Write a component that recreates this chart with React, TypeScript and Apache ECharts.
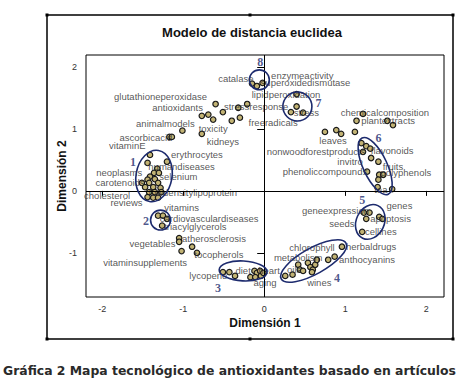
import React, { useEffect, useRef } from "react";
import * as echarts from "echarts";

// Term positions (Dimensión 1, Dimensión 2)
const pointX = [
  -0.60, -0.32, -0.21, -0.51, -0.77, -0.69, -0.63, -0.40, -0.30, -1.01, -0.77, -1.17, -1.14,
  -0.15, -0.09, -0.02,
  0.40, 0.40, 0.33, 0.48,
  1.22, 1.14, 1.52, 1.59, 0.75, 0.89, 0.95, 1.12,
  1.20, 1.26, 1.31, 1.22, 1.32, 1.41, 1.27, 1.42, 1.47, 1.41, 1.40, 1.58,
  1.23, 1.30, 1.26, 1.42, 1.46, 1.21,
  0.26, 0.35, 0.42, 0.44, 0.48, 0.54, 0.57, 0.60, 0.63, 0.65, 0.59, 0.79, 0.87, 0.96,
  -0.51, -0.43, -0.36, -0.17, -0.12, -0.09, -0.05, -0.04, -0.11, -0.01,
  -1.31, -1.25, -1.20, -1.26,
  -1.05, -1.05, -0.89, -1.02, -0.83,
  -1.41, -1.20, -1.44, -1.32, -1.36, -1.30, -1.41, -1.44, -1.35, -1.51, -1.42,
  -1.31, -1.47, -1.37, -1.28, -1.42, -1.35, -1.27, -1.44, -1.37, -1.31,
];
const pointY = [
  1.40, 1.34, 1.40, 1.27, 1.21, 1.23, 1.15, 1.13, 1.18, 0.97, 0.92, 0.87, 0.87,
  1.73, 1.69, 1.74,
  1.56, 1.36, 1.27, 1.26,
  1.24, 1.13, 1.13, 1.06, 0.95, 0.98, 0.92, 0.95,
  0.77, 0.72, 0.68, 0.63, 0.53, 0.47, 0.31, 0.26, 0.26, 0.18, 0.06, 0.03,
  -0.35, -0.35, -0.45, -0.42, -0.45, -0.66,
  -1.37, -1.35, -1.19, -1.27, -1.29, -1.16, -1.23, -1.27, -1.19, -1.11, -1.31, -1.11, -1.06, -0.90,
  -1.31, -1.31, -1.37, -1.39, -1.29, -1.32, -1.29, -1.37, -1.39, -1.32,
  -0.40, -0.40, -0.45, -0.56,
  -0.76, -0.82, -0.90, -0.97, -1.00,
  0.58, 0.47, 0.45, 0.36, 0.29, 0.29, 0.23, 0.18, 0.19, 0.13, 0.13,
  0.13, 0.06, 0.06, 0.05, -0.02, -0.02, -0.02, -0.10, -0.11, -0.11,
];

// Term labels and where they sit
const labelNames = [
  "glutathioneperoxidase", "antioxidants", "stressresponse", "lipidperoxidation", "stress",
  "freeradicals", "animalmodels", "toxicity", "kidneys", "ascorbicacid", "vitaminE",
  "erythrocytes", "humandiseases", "neoplasms", "selenium", "carotenoids", "cholesterol",
  "lowdensitylipoprotein", "reviews", "vitamins", "cardiovasculardiseases", "triacylglycerols",
  "atherosclerosis", "vegetables", "tocopherols", "vitaminsupplements", "lycopene", "diet",
  "heart", "oils", "aging", "chlorophyll", "metabolism", "wines", "herbaldrugs", "anthocyanins",
  "geneexpression", "genes", "apoptosis", "seeds", "cellines", "chemicalcomposition",
  "plantextracts", "leaves", "nonwoodforestproducts", "flavonoids", "invitro",
  "phenoliccompounds", "fruits", "polyphenols", "tea", "catalase", "enzymeactivity",
  "superoxidedismutase",
];
const labelX = [
  -1.28, -1.07, -0.10, 0.27, 0.52,
  0.11, -1.22, -0.63, -0.51, -1.46, -1.69,
  -0.83, -1.02, -1.79, -1.06, -1.78, -1.94,
  -0.88, -1.70, -1.02, -0.68, -0.85,
  -0.62, -1.38, -0.56, -1.47, -0.69, -0.26,
  0.06, 0.37, 0.01, 0.59, 0.42, 0.68, 1.32, 1.27,
  0.88, 1.67, 1.56, 0.96, 1.44, 1.49,
  1.53, 0.85, 0.64, 1.58, 1.06,
  0.75, 1.59, 1.75, 1.44, -0.35, 0.47,
  0.51,
];
const labelY = [
  1.52, 1.34, 1.36, 1.55, 1.27,
  1.11, 1.08, 1.00, 0.79, 0.86, 0.73,
  0.58, 0.39, 0.29, 0.23, 0.13, -0.07,
  -0.02, -0.19, -0.27, -0.44, -0.58,
  -0.77, -0.84, -1.02, -1.15, -1.37, -1.29,
  -1.29, -1.27, -1.47, -0.92, -1.07, -1.47, -0.90, -1.10,
  -0.31, -0.24, -0.45, -0.53, -0.66, 1.26,
  1.13, 0.81, 0.63, 0.65, 0.48,
  0.32, 0.40, 0.29, 0.03, 1.81, 1.86,
  1.74,
];

// Cluster outlines: centre, semi-axes (in Dimensión 1 units), tilt in degrees, tag position
const clusterIds = ["1", "2", "3", "4", "5", "6", "7", "8"];
const clusterX = [-1.36, -1.28, -0.26, 0.61, 1.31, 1.37, 0.41, -0.06];
const clusterY = [0.24, -0.47, -1.29, -1.13, -0.50, 0.40, 1.36, 1.79];
const clusterMajor = [0.32, 0.123, 0.296, 0.457, 0.222, 0.383, 0.179, 0.123];
const clusterMinor = [0.222, 0.123, 0.123, 0.16, 0.173, 0.148, 0.179, 0.123];
const clusterAngle = [80, 0, -3, 29, 65, -65, 0, 0];
const clusterTagX = [-1.62, -1.46, -0.57, 0.90, 1.21, 1.41, 0.67, -0.05];
const clusterTagY = [0.47, -0.48, -1.57, -1.40, -0.15, 0.86, 1.42, 2.07];

const xTicks = [-2, -1, 0, 1, 2];
const yTicks = [-1, 0, 1, 2];

const NAVY = "#1d2b6e";

export default function App() {
  const ref = useRef<HTMLDivElement>(null);

  useEffect(() => {
    if (!ref.current) return;
    const chart = echarts.init(ref.current, undefined, { renderer: "svg" });

    const points = pointX.map((x, i) => [x, pointY[i]]);
    const labels = labelNames.map((n, i) => ({ name: n, value: [labelX[i], labelY[i]] }));
    const clusters = clusterIds.map((id, i) => [
      clusterX[i], clusterY[i], clusterMajor[i], clusterMinor[i], clusterAngle[i],
    ]);
    const tags = clusterIds.map((id, i) => ({ name: id, value: [clusterTagX[i], clusterTagY[i]] }));

    const handles = [
      [47, 15], [250, 15], [453, 15], [47, 339], [250, 339], [453, 339],
    ].map(([x, y]) => ({
      type: "rect",
      shape: { x: x - 1.5, y: y - 1.5, width: 3, height: 3 },
      style: { fill: "#000" },
      z: 10,
    }));

    chart.setOption({
      animation: false,
      backgroundColor: "#fff",
      grid: {
        left: 86,
        top: 55,
        width: 358,
        height: 242,
        show: true,
        borderColor: "#000",
        borderWidth: 1,
        backgroundColor: "transparent",
      },
      xAxis: {
        type: "value",
        min: -2.2,
        max: 2.22,
        axisLine: { show: false },
        splitLine: { show: false },
        axisTick: {
          show: true,
          customValues: xTicks,
          length: 5,
          lineStyle: { color: "#000", width: 1 },
        },
        axisLabel: {
          customValues: xTicks,
          fontSize: 9,
          color: "#333",
          margin: 7,
          fontFamily: "Liberation Sans, Arial, sans-serif",
        },
      },
      yAxis: {
        type: "value",
        min: -1.71,
        max: 2.19,
        axisLine: { show: false },
        splitLine: { show: false },
        axisTick: {
          show: true,
          customValues: yTicks,
          length: 7,
          lineStyle: { color: "#000", width: 1 },
        },
        axisLabel: {
          customValues: yTicks,
          fontSize: 9,
          color: "#333",
          margin: 9,
          fontFamily: "Liberation Sans, Arial, sans-serif",
        },
      },
      series: [
        {
          type: "scatter",
          data: points,
          symbol: "circle",
          symbolSize: 5.5,
          itemStyle: { color: "#c2b374", borderColor: "#1a1a1a", borderWidth: 1.2, opacity: 1 },
          z: 3,
          markLine: {
            silent: true,
            symbol: ["none", "none"],
            label: { show: false },
            lineStyle: { color: "#000", width: 1, type: "solid" },
            data: [{ xAxis: 0 }, { yAxis: 0 }],
          },
        },
        {
          type: "scatter",
          data: labels,
          symbolSize: 0,
          z: 4,
          label: {
            show: true,
            position: "inside",
            formatter: "{b}",
            color: "#2a2a2a",
            fontSize: 9.5,
            fontFamily: "Liberation Sans, Arial, sans-serif",
          },
        },
        {
          type: "custom",
          data: clusters,
          z: 5,
          renderItem: (params: any, api: any) => {
            const c = api.coord([api.value(0), api.value(1)]);
            const a = api.size([api.value(2), 0])[0];
            const b = api.size([api.value(3), 0])[0];
            const ang = (api.value(4) * Math.PI) / 180;
            return {
              type: "ellipse",
              x: c[0],
              y: c[1],
              rotation: ang,
              shape: { cx: 0, cy: 0, rx: a, ry: b },
              style: { fill: "none", stroke: NAVY, lineWidth: 1.6 },
            };
          },
        },
        {
          type: "scatter",
          data: tags,
          symbolSize: 0,
          z: 6,
          label: {
            show: true,
            position: "inside",
            formatter: "{b}",
            color: NAVY,
            fontSize: 12,
            fontWeight: "bold",
            fontFamily: "Liberation Serif, Times New Roman, serif",
          },
        },
      ],
      graphic: [
        {
          type: "rect",
          shape: { x: 47, y: 15, width: 406, height: 324 },
          style: { fill: "none", stroke: "#000", lineWidth: 1.5 },
          z: 9,
        },
        ...handles,
        {
          type: "text",
          x: 252,
          y: 32,
          style: {
            text: "Modelo de distancia euclidea",
            fill: "#111",
            font: "bold 13px 'Liberation Sans', Arial, sans-serif",
            textAlign: "center",
            textVerticalAlign: "middle",
          },
        },
        {
          type: "text",
          x: 265,
          y: 323,
          style: {
            text: "Dimensión 1",
            fill: "#111",
            font: "bold 12px 'Liberation Sans', Arial, sans-serif",
            textAlign: "center",
            textVerticalAlign: "middle",
          },
        },
        {
          type: "text",
          x: 62,
          y: 176,
          rotation: Math.PI / 2,
          style: {
            text: "Dimensión 2",
            fill: "#111",
            font: "bold 12px 'Liberation Sans', Arial, sans-serif",
            textAlign: "center",
            textVerticalAlign: "middle",
          },
        },
        {
          type: "text",
          x: 3,
          y: 370,
          style: {
            text: "Gráfica 2 Mapa tecnológico de antioxidantes basado en artículos",
            fill: "#2a2a2a",
            font: "bold 12.4px 'DejaVu Sans', sans-serif",
            textAlign: "left",
            textVerticalAlign: "middle",
          },
        },
      ],
    });

    return () => chart.dispose();
  }, []);

  return (
    <div
      ref={ref}
      style={{ position: "fixed", left: 0, top: 0, width: 460, height: 384, background: "#fff" }}
    />
  );
}
